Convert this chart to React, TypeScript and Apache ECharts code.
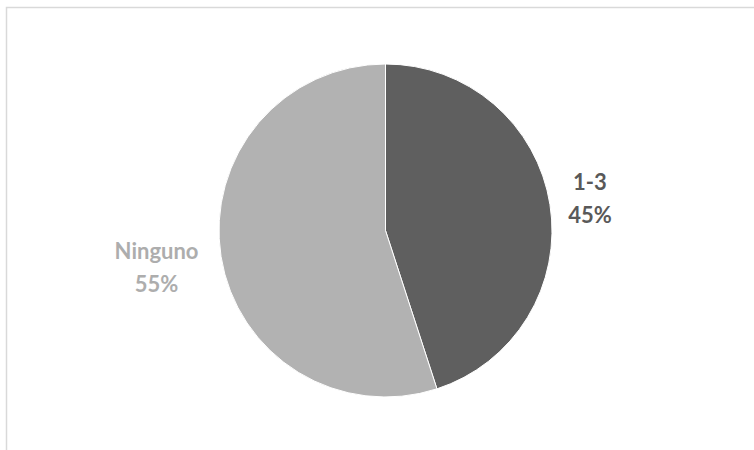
import React, { useEffect, useRef } from "react";
import * as echarts from "echarts";

const categories = ["1-3", "Ninguno"];
const values = [45, 55];
const sliceColors = ["#5f5f5f", "#b2b2b2"];
const labelColors = ["#595959", "#adadad"];
// label nudges (dx, dy) relative to default outside anchor
const labelOffsets = [
  [35, -6],
  [-59.5, 10],
];

export default function App() {
  const ref = useRef<HTMLDivElement>(null);
  useEffect(() => {
    document.body.style.margin = "0";
    if (!ref.current) return;
    const chart = echarts.init(ref.current, undefined, { renderer: "svg" });
    chart.setOption({
      animation: false,
      backgroundColor: "#ffffff",
      graphic: [
        {
          type: "rect",
          shape: { x: 6.5, y: 7.5, width: 800, height: 500 },
          style: { fill: "none", stroke: "#d9d9d9", lineWidth: 1.5 },
          silent: true,
        },
      ],
      series: [
        {
          type: "pie",
          center: [385.5, 230.5],
          radius: 166.5,
          startAngle: 90,
          clockwise: true,
          avoidLabelOverlap: false,
          itemStyle: { borderColor: "#ffffff", borderWidth: 1 },
          label: {
            show: true,
            position: "outside",
            formatter: "{b}\n{d}%",
            fontFamily: "Lato",
            fontWeight: "bold",
            fontSize: 22,
            lineHeight: 33,
          },
          labelLine: { show: false, length: 0, length2: 0 },
          labelLayout: (params: any) => {
            const o = labelOffsets[params.dataIndex];
            return { dx: o[0], dy: o[1], align: "center" };
          },
          data: categories.map((name, i) => ({
            name,
            value: values[i],
            itemStyle: { color: sliceColors[i] },
            label: { color: labelColors[i] },
          })),
        },
      ],
    });
    return () => chart.dispose();
  }, []);
  return <div ref={ref} style={{ width: 754, height: 450 }} />;
}
